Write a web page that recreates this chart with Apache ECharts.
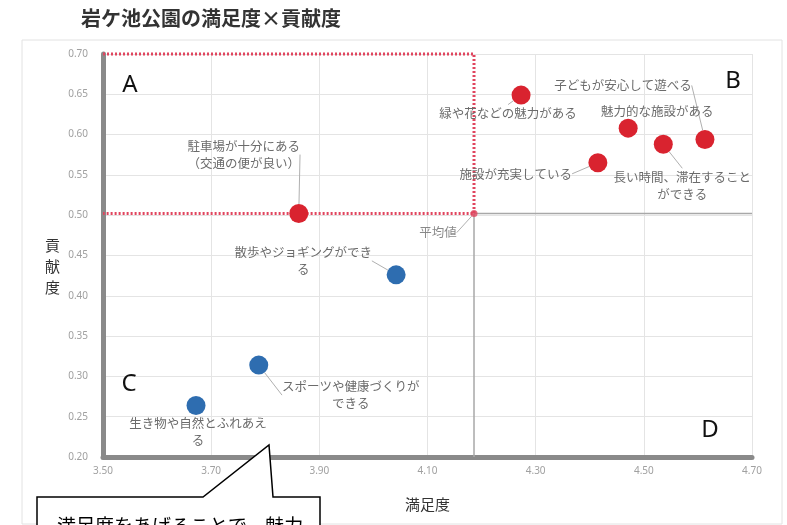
<!DOCTYPE html>
<html>
<head>
<meta charset="utf-8">
<script src="https://cdn.jsdelivr.net/npm/echarts@6/dist/echarts.min.js"></script>
<style>
html,body{margin:0;padding:0;background:#fff;}
#c{width:787px;height:525px;}
</style>
</head>
<body>
<div id="c"></div>
<script>
// ---- data ----
const titleText = '岩ケ池公園の満足度×貢献度';
const xName = '満足度';
const yName = '貢献度';
const redNames = ['緑や花などの魅力がある', '魅力的な施設がある', '子どもが安心して遊べる', '長い時間、滞在すること\nができる', '施設が充実している', '駐車場が十分にある\n（交通の便が良い）'];
const redX = [4.273, 4.471, 4.613, 4.536, 4.415, 3.862];
const redY = [0.649, 0.608, 0.594, 0.588, 0.565, 0.502];
const blueNames = ['散歩やジョギングができ\nる', 'スポーツや健康づくりが\nできる', '生き物や自然とふれあえ\nる'];
const blueX = [4.042, 3.788, 3.672];
const blueY = [0.426, 0.314, 0.264];
const meanX = 4.186;
const meanY = 0.502;
const meanLabel = '平均値';
const xMin = 3.5, xMax = 4.7, yMin = 0.2, yMax = 0.7;
const quadrantLetters = ['A', 'B', 'C', 'D'];
const calloutText = '満足度をあげることで、魅力';

// ---- style (label offsets in px) ----
const redOffsets = [[-13, 18], [29, -17], [-82, -54], [19, 41], [-82, 11], [-55, -59]];
const blueOffsets = [[-93, -14], [92, 30], [2, 26]];
const redNoLine = [false, true, false, false, false, false];
const blueNoLine = [false, false, true];
const letterPos = [[130, 85], [733, 81], [129, 384], [710, 430]];

const RED = '#d9232f', BLUE = '#2e6db0', DOT = '#e0455e';
const CJK = '"Noto Sans CJK JP", "Noto Sans", sans-serif';

function pts(xs, ys, names, noLine) {
  return xs.map((x, i) => ({
    name: names[i], value: [x, ys[i]],
    labelLine: { show: !noLine[i] }
  }));
}

const labelStyle = {
  show: true, position: 'inside', formatter: '{b}',
  color: '#6b6b6b', fontSize: 12.5, lineHeight: 17, align: 'center',
  fontFamily: CJK
};
const leader = { show: true, lineStyle: { color: '#b0b0b0', width: 1 } };

const chart = echarts.init(document.getElementById('c'));
chart.setOption({
  animation: false,
  backgroundColor: '#fff',
  title: {
    text: titleText, left: 76, top: 3,
    textStyle: { fontSize: 20, fontWeight: 'bold', color: '#333', fontFamily: CJK }
  },
  grid: { left: 103, right: 35, top: 54, bottom: 68, containLabel: false },
  xAxis: {
    type: 'value', min: xMin, max: xMax, interval: 0.1,
    name: xName, nameLocation: 'middle', nameGap: 40,
    nameTextStyle: { fontSize: 15, color: '#333', fontFamily: CJK },
    axisLine: { show: true, onZero: false, lineStyle: { color: '#8a8a8a', width: 5 } },
    axisTick: { show: false },
    axisLabel: {
      margin: 9, color: '#a0a0a0', fontSize: 10, fontFamily: 'Noto Sans',
      formatter: v => (Math.round(v * 10) % 2 === 1 ? v.toFixed(2) : '')
    },
    splitLine: { show: true, lineStyle: { color: ['#e4e4e4', 'rgba(0,0,0,0)'], width: 1 } }
  },
  yAxis: {
    type: 'value', min: yMin, max: yMax, interval: 0.05,
    name: '\n' + yName.split('').join('\n'), nameLocation: 'middle', nameRotate: 0, nameGap: 43,
    nameTextStyle: { fontSize: 15, lineHeight: 21, color: '#333', fontFamily: CJK },
    axisLine: { show: true, onZero: false, lineStyle: { color: '#8a8a8a', width: 5 } },
    axisTick: { show: false },
    axisLabel: { margin: 15, color: '#a0a0a0', fontSize: 10, fontFamily: 'Noto Sans', formatter: v => v.toFixed(2) },
    splitLine: { show: true, lineStyle: { color: '#e4e4e4', width: 1 } }
  },
  series: [
    {
      type: 'line', clip: false, silent: true, symbol: 'none', z: 3,
      data: [[meanX, meanY], [xMax, meanY]],
      lineStyle: { color: '#a8a8a8', width: 1.5 }
    },
    {
      type: 'line', clip: false, silent: true, symbol: 'none', z: 3,
      data: [[meanX, yMin], [meanX, meanY]],
      lineStyle: { color: '#a8a8a8', width: 1.5 }
    },
    {
      type: 'line', clip: false, silent: true, symbol: 'none', z: 4,
      data: [[xMin, yMax], [meanX, yMax], [meanX, meanY], [xMin, meanY]],
      lineStyle: { color: DOT, width: 3, type: [2, 2] }
    },
    {
      type: 'scatter', z: 6, symbolSize: 7,
      data: [{ name: meanLabel, value: [meanX, meanY] }],
      itemStyle: { color: DOT },
      label: labelStyle, labelLine: leader,
      labelLayout: () => ({ dx: -36, dy: 19 })
    },
    {
      type: 'scatter', z: 6, symbolSize: 19,
      data: pts(redX, redY, redNames, redNoLine),
      itemStyle: { color: RED, opacity: 1 },
      label: labelStyle, labelLine: leader,
      labelLayout: p => ({ dx: redOffsets[p.dataIndex][0], dy: redOffsets[p.dataIndex][1] })
    },
    {
      type: 'scatter', z: 6, symbolSize: 19,
      data: pts(blueX, blueY, blueNames, blueNoLine),
      itemStyle: { color: BLUE, opacity: 1 },
      label: labelStyle, labelLine: leader,
      labelLayout: p => ({ dx: blueOffsets[p.dataIndex][0], dy: blueOffsets[p.dataIndex][1] })
    }
  ],
  graphic: [
    { type: 'rect', shape: { x: 22, y: 40, width: 760, height: 484 }, style: { fill: 'none', stroke: '#e2e2e2', lineWidth: 1 }, silent: true, z: 0 },
    ...quadrantLetters.map((t, i) => ({
      type: 'text', x: letterPos[i][0], y: letterPos[i][1], z: 50,
      style: { text: t, fontSize: 24, fill: '#111', fontFamily: 'Noto Sans', textAlign: 'center', textVerticalAlign: 'middle' }
    })),
    {
      type: 'polygon', z: 60,
      shape: { points: [[37, 497], [203, 497], [269, 445], [273, 497], [320, 497], [320, 540], [37, 540]] },
      style: { fill: '#fff', stroke: '#000', lineWidth: 1.5 }
    },
    {
      type: 'text', x: 57, y: 516, z: 61,
      style: { text: calloutText, fontSize: 19, fill: '#000', fontFamily: CJK, textVerticalAlign: 'top' }
    }
  ]
});
</script>
</body>
</html>
